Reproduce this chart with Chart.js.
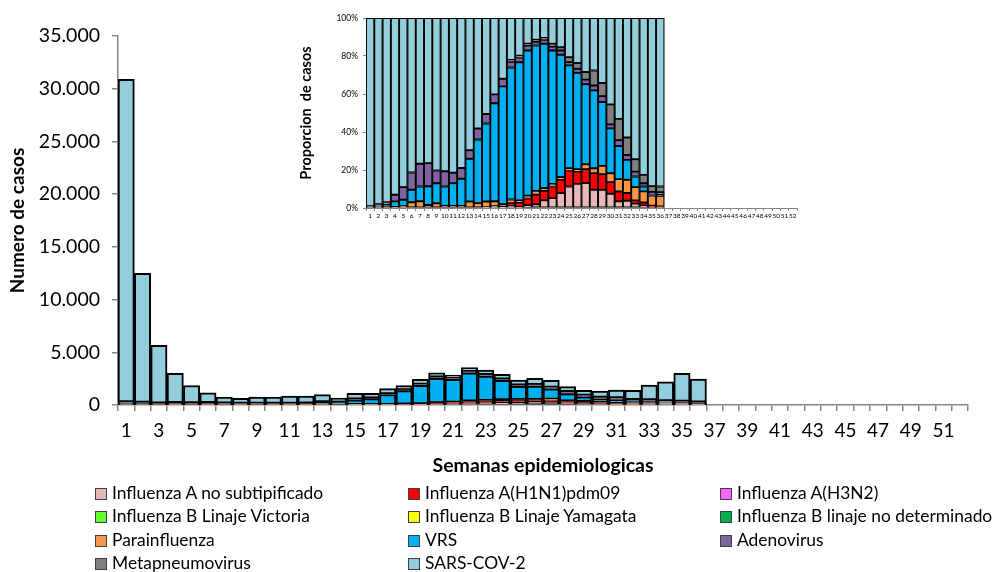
<!DOCTYPE html>
<html>
<head>
<meta charset="utf-8">
<script src="https://cdn.jsdelivr.net/npm/chart.js@4/dist/chart.umd.min.js"></script>
<style>
  body { margin: 0; background: #fff; }
  #wrap { position: relative; width: 997px; height: 572px; overflow: hidden; }
  #main { position: absolute; left: 0; top: 0; }
  #inset { position: absolute; left: 290px; top: 0; }
  .li { position: absolute; font-family: Lato, sans-serif; font-size: 17.4px; line-height: 20px; color: #000; white-space: nowrap; }
  .sw { display: inline-block; width: 10px; height: 10px; border: 1px solid #404040; margin-right: 5px; vertical-align: -1px; }
</style>
</head>
<body>
<div id="wrap">
  <canvas id="main" width="997" height="572"></canvas>
  <canvas id="inset" width="520" height="225"></canvas>
</div>
<script>
const semanas = ['1','2','3','4','5','6','7','8','9','10','11','12','13','14','15','16','17','18','19','20',
  '21','22','23','24','25','26','27','28','29','30','31','32','33','34','35','36','37','38','39','40',
  '41','42','43','44','45','46','47','48','49','50','51','52'];

// casos por semana (semanas 1-36)
const iaNoSub  = [0,0,0,0,0,0,0,0,0,0,0,0,0,0,5,11,8,18,12,46,57,142,173,229,268,321,307,167,133,100,50,53,44,27,9,7];
const h1n1     = [0,0,0,0,0,0,0,0,0,0,0,0,0,0,0,0,0,28,61,107,142,177,203,203,199,164,171,151,114,81,74,56,32,38,27,12];
const h3n2     = [0,0,0,0,0,0,0,0,0,0,0,0,0,0,0,0,0,0,0,0,0,0,0,0,0,0,0,0,0,0,0,0,0,0,0,0];
const bVictoria= [0,0,0,0,0,0,0,0,0,0,0,0,0,0,0,0,0,0,0,0,0,0,0,0,0,0,0,0,0,0,0,0,0,0,0,0];
const bYamagata= [0,0,0,0,0,0,0,0,0,0,0,0,0,0,0,0,0,0,0,0,0,0,0,0,0,0,0,0,0,0,0,0,0,0,0,0];
const bNoDet   = [0,0,0,0,0,0,0,0,0,0,0,0,0,0,0,0,0,0,0,0,0,0,0,0,0,0,0,0,0,0,0,0,0,0,0,0];
const para     = [60,40,20,15,18,35,27,10,19,8,9,9,34,17,33,28,23,37,24,46,57,53,46,41,28,30,61,45,61,63,92,97,133,128,162,138];
const vrs      = [90,90,80,90,63,76,59,63,80,78,102,122,220,221,451,567,961,1286,1767,2338,2173,2690,2331,1868,1282,1285,985,713,468,314,247,146,106,57,15,17];
const adeno    = [90,90,60,105,122,104,91,78,51,61,47,48,44,38,55,52,62,55,61,77,57,71,70,67,40,53,56,45,42,28,44,36,49,38,42,30];
const meta     = [60,30,10,0,0,0,0,0,0,0,0,0,0,0,0,0,0,18,24,31,28,35,46,49,62,76,94,137,97,140,159,128,124,97,90,74];
const sars     = [30600,12250,5480,2790,1647,935,583,489,610,613,692,671,682,384,556,442,496,409,481,414,326,372,451,447,488,600,665,480,475,605,754,873,1412,1823,2655,2182];

const nombres = ['Influenza A no subtipificado','Influenza A(H1N1)pdm09','Influenza A(H3N2)',
  'Influenza B Linaje Victoria','Influenza B Linaje Yamagata','Influenza B linaje no determinado',
  'Parainfluenza','VRS','Adenovirus','Metapneumovirus','SARS-COV-2'];
const colores = ['#E6B9B8','#FF0000','#FF66FF','#66FF33','#FFFF00','#00B050',
  '#F79646','#00B0F0','#8064A2','#808080','#92CDDC'];
const series = [iaNoSub,h1n1,h3n2,bVictoria,bYamagata,bNoDet,para,vrs,adeno,meta,sars];

const fam = 'Lato, sans-serif';
const puntos = v => String(v).replace(/\B(?=(\d{3})+(?!\d))/g, '.');

// main chart
new Chart(document.getElementById('main'), {
  type: 'bar',
  data: {
    labels: semanas,
    datasets: series.map((s, i) => ({
      label: nombres[i], data: s, backgroundColor: colores[i],
      borderColor: '#000', borderWidth: 2, borderSkipped: false,
      categoryPercentage: 1, barPercentage: 1
    }))
  },
  options: {
    responsive: false, animation: false,
    layout: { padding: { left: 0, right: 29, top: 36, bottom: 92 } },
    plugins: { legend: { display: false }, tooltip: { enabled: false } },
    scales: {
      x: {
        stacked: true,
        grid: { offset: true, drawOnChartArea: false, tickLength: 6, color: '#868686', lineWidth: 1.5 },
        border: { color: '#868686', width: 1.5 },
        ticks: { autoSkip: false, maxRotation: 0, padding: 8, color: '#000', font: { family: fam, size: 19 },
          callback: (v, i) => i % 2 === 0 ? semanas[i] : '' },
        title: { display: true, text: 'Semanas epidemiologicas', color: '#000',
          font: { family: fam, size: 19.5, weight: 'bold' }, padding: { top: 4, bottom: 3 } },
        afterFit: s => { s.height = 75; }
      },
      y: {
        stacked: true, min: 0, max: 35000,
        grid: { drawOnChartArea: false, tickLength: 6, color: '#868686', lineWidth: 1.5 },
        border: { color: '#868686', width: 1.5 },
        ticks: { stepSize: 5000, padding: 12, color: '#000', font: { family: fam, size: 19.5 },
          callback: v => puntos(v) },
        title: { display: true, text: 'Numero de casos', color: '#000',
          font: { family: fam, size: 19, weight: 'bold' }, padding: { top: 6 } },
        afterFit: s => { s.width = 118; }
      }
    }
  }
});

// inset: proporcion de casos
const totales = sars.map((_, k) => series.reduce((a, s) => a + s[k], 0));
new Chart(document.getElementById('inset'), {
  type: 'bar',
  data: {
    labels: semanas,
    datasets: series.map((s, i) => ({
      label: nombres[i], data: s.map((v, k) => v / totales[k] * 100), backgroundColor: colores[i],
      borderColor: '#000', borderWidth: 1.3, borderSkipped: false,
      categoryPercentage: 1, barPercentage: 1
    }))
  },
  options: {
    responsive: false, animation: false,
    layout: { padding: { left: 0, right: 13, top: 18, bottom: 0 } },
    plugins: { legend: { display: false }, tooltip: { enabled: false } },
    scales: {
      x: {
        stacked: true,
        grid: { offset: true, drawOnChartArea: false, tickLength: 3, color: '#868686' },
        border: { color: '#868686' },
        ticks: { autoSkip: false, maxRotation: 0, padding: 1, color: '#000', font: { family: fam, size: 6.5 } },
        afterFit: s => { s.height = 17; }
      },
      y: {
        stacked: true, min: 0, max: 100,
        grid: { drawOnChartArea: false, tickLength: 3, color: '#868686' },
        border: { display: false },
        ticks: { stepSize: 20, padding: 5, color: '#000', font: { family: fam, size: 8.5 },
          callback: v => v + '%' },
        title: { display: true, text: 'Proporcion  de casos', color: '#000',
          font: { family: fam, size: 14.5, weight: 'bold' }, padding: { top: 8 } },
        afterFit: s => { s.width = 76; }
      }
    }
  }
});

// legend
const wrap = document.getElementById('wrap');
const colX = [95, 408, 720];
const rowY = [483, 506, 530, 553];
nombres.forEach((n, i) => {
  const d = document.createElement('div');
  d.className = 'li';
  d.style.left = colX[i % 3] + 'px';
  d.style.top = rowY[Math.floor(i / 3)] + 'px';
  d.innerHTML = '<span class="sw" style="background:' + colores[i] + '"></span>' + n;
  wrap.appendChild(d);
});
</script>
</body>
</html>
